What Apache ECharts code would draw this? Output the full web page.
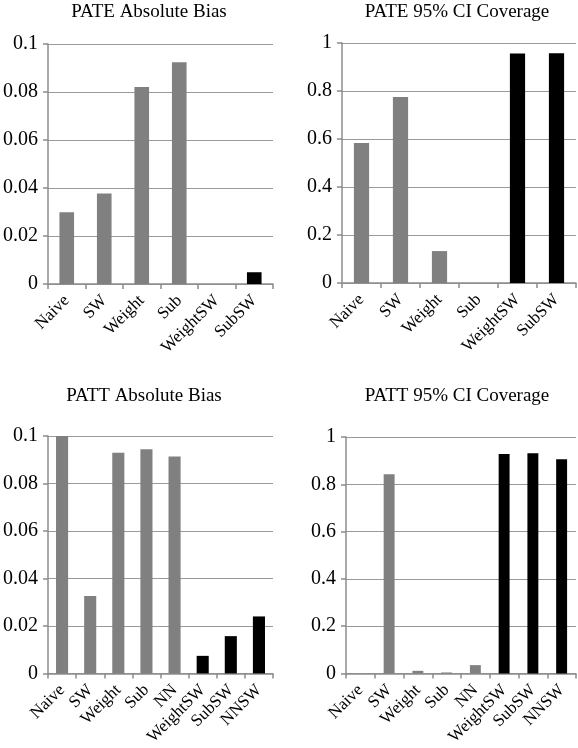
<!DOCTYPE html>
<html><head><meta charset="utf-8">
<script src="https://cdn.jsdelivr.net/npm/echarts@6/dist/echarts.min.js"></script>
<style>html,body{margin:0;padding:0;background:#fff}#c{width:578px;height:748px}</style>
</head><body><div id="c"></div>
<script>
const pateCats = ['Naive','SW','Weight','Sub','WeightSW','SubSW'];
const pattCats = ['Naive','SW','Weight','Sub','NN','WeightSW','SubSW','NNSW'];
const pateBias = [0.0299, 0.0377, 0.0821, 0.0924, 0, 0.0049];
const pateCover = [0.583, 0.775, 0.133, 0, 0.956, 0.957];
const pattBias = [0.100, 0.0326, 0.0929, 0.0944, 0.0914, 0.0074, 0.0157, 0.0240];
const pattCover = [0, 0.842, 0.011, 0.004, 0.035, 0.928, 0.931, 0.906];
const titles = ['PATE Absolute Bias','PATE 95% CI Coverage','PATT Absolute Bias','PATT 95% CI Coverage'];
const biasTicks = {min:0, max:0.1, interval:0.02};
const coverTicks = {min:0, max:1, interval:0.2};

const FONT = '"Liberation Serif", "Times New Roman", serif';
const panels = [
  {cats: pateCats, vals: pateBias, ticks: biasTicks, bw:'39%', grid:{left:47, top:44, width:226, height:240}, title:{x:144, y:10}},
  {cats: pateCats, vals: pateCover, ticks: coverTicks, bw:'39%', grid:{left:342, top:43, width:234, height:240}, title:{x:452, y:10}},
  {cats: pattCats, vals: pattBias, ticks: biasTicks, bw:'43%', grid:{left:43, top:436, width:230, height:240}, title:{x:139, y:394}},
  {cats: pattCats, vals: pattCover, ticks: coverTicks, bw:'38%', grid:{left:346, top:437, width:230, height:240}, title:{x:452, y:394}}
];
const isAdjusted = name => name !== 'SW' && /SW$/.test(name);

const option = {
  backgroundColor:'#fff',
  animation:false,
  title: panels.map((p,i)=>({
    text: titles[i], left: p.title.x, top: p.title.y - 12, textAlign:'center',
    textStyle:{fontFamily:FONT, fontSize:19, fontWeight:'normal', color:'#000'}
  })),
  grid: panels.map(p=>Object.assign({containLabel:false}, p.grid)),
  xAxis: panels.map((p,i)=>({
    type:'category', gridIndex:i, data:p.cats,
    axisLine:{lineStyle:{color:'#8c8c8c', width:1.5}},
    axisTick:{show:true, length:5, lineStyle:{color:'#8c8c8c', width:1.5}},
    axisLabel:{rotate:45, interval:0, fontFamily:FONT, fontSize:17, color:'#000', margin:14}
  })),
  yAxis: panels.map((p,i)=>({
    type:'value', gridIndex:i, min:p.ticks.min, max:p.ticks.max, interval:p.ticks.interval,
    axisLine:{show:true, lineStyle:{color:'#8c8c8c', width:1.5}},
    axisTick:{show:true, length:5, lineStyle:{color:'#8c8c8c', width:1.5}},
    splitLine:{show:true, lineStyle:{color:'#999', width:1.2}},
    axisLabel:{fontFamily:FONT, fontSize:20, color:'#000', margin:10,
      formatter: v => String(parseFloat(v.toFixed(4)))}
  })),
  series: panels.map((p,i)=>({
    type:'bar', xAxisIndex:i, yAxisIndex:i, data:p.vals, barWidth:p.bw,
    itemStyle:{color: params => isAdjusted(params.name) ? '#000' : '#808080'}
  }))
};
echarts.init(document.getElementById('c')).setOption(option);
</script></body></html>
